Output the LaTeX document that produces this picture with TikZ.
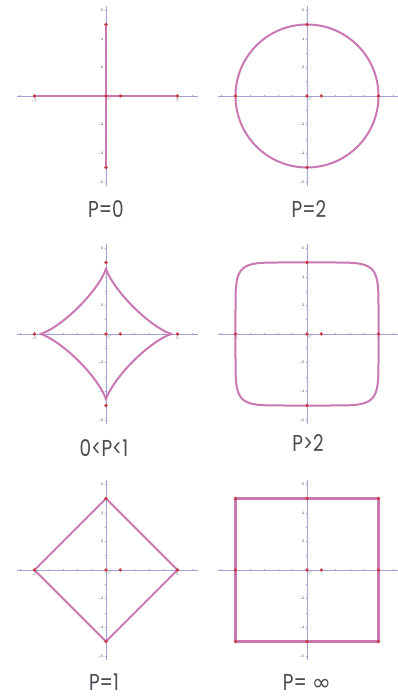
\documentclass[tikz,border=0pt]{standalone}
\usepackage{fontspec}
\newfontfamily\labelfont[FakeStretch=0.8]{Poppins}
\newfontfamily\symfont{DejaVu Sans}
\definecolor{curvepink}{RGB}{201,120,178}
\definecolor{axislav}{RGB}{165,160,215}
\definecolor{dotred}{RGB}{200,60,70}
\definecolor{gridgray}{RGB}{200,200,200}
\definecolor{labelgray}{RGB}{75,75,82}
\begin{document}
\begin{tikzpicture}[x=1pt, y=1pt,
  gridline/.style={gridgray, dash pattern=on 1pt off 1.5pt, line width=0.4pt},
  axisline/.style={axislav, line width=0.8pt},
  curveline/.style={curvepink, line width=2pt, line join=round},
  ticklabel/.style={font=\fontsize{4}{4}\selectfont, text=black!70, inner sep=1pt},
  reddot/.style={circle, fill=dotred, inner sep=0pt, minimum size=3.6pt},
  caption/.style={font=\labelfont\fontsize{23}{23}\selectfont, text=labelgray, anchor=base, inner sep=0pt}]
  \useasboundingbox (0,0) rectangle (398,698);

  % grids and axes of the six panels
  \foreach \ox/\oy in {106/602, 307/602, 106/364, 307/364, 106/128, 307/128} {
    \begin{scope}[shift={(\ox,\oy)}, scale=14.3]
      \draw[gridline] (-6.2,-6.2) grid (6.3,6.3);
      \draw[axisline] (-6.2,0) -- (6.4,0);
      \draw[axisline] (0,-6.3) -- (0,6.3);
      \foreach \t in {-6,...,6} {
        \draw[axisline, line width=0.5pt] (\t,-0.1) -- (\t,0.1);
        \draw[axisline, line width=0.5pt] (-0.1,\t) -- (0.1,\t);
      }
      \foreach \t in {-6,-4,-2,2,4,6}
        \node[ticklabel, left] (yl\t) at (-0.1,\t) {\t};
      \node[ticklabel, below] (xlm) at (-5,-0.1) {-5};
      \node[ticklabel, below] (xlp) at (5,-0.1) {5};
      \node[ticklabel, below right] (cl) at (0,0) {\itshape C};
    \end{scope}
  }

  % P=0: degenerate cross
  \begin{scope}[shift={(106,602)}, scale=14.3]
    \draw[curveline] (-5,0) -- (5,0);
    \draw[curveline] (0,-5) -- (0,5);
  \end{scope}

  % P=2: circle
  \begin{scope}[shift={(307,602)}, scale=14.3]
    \draw[curveline] (0,0) circle (5);
  \end{scope}

  % 0<P<1: star
  \begin{scope}[shift={(106,364)}, scale=14.3]
    \draw[curveline] plot[domain=0.5:359.5, samples=360]
      ({4.6*sign(cos(\x))*pow(abs(cos(\x)),2.55)}, {4.6*sign(sin(\x))*pow(abs(sin(\x)),2.55)}) -- cycle;
  \end{scope}

  % P>2: rounded square
  \begin{scope}[shift={(307,364)}, scale=14.3]
    \draw[curveline] plot[domain=0.5:359.5, samples=360]
      ({5*sign(cos(\x))*pow(abs(cos(\x)),0.2857)}, {5*sign(sin(\x))*pow(abs(sin(\x)),0.2857)}) -- cycle;
  \end{scope}

  % P=1: diamond
  \begin{scope}[shift={(106,128)}, scale=14.3]
    \draw[curveline] (-5,0) -- (0,5) -- (5,0) -- (0,-5) -- cycle;
  \end{scope}

  % P=infinity: square
  \begin{scope}[shift={(307,128)}, scale=14.3]
    \draw[curveline, line width=2.4pt] (-5,-5) rectangle (5,5);
    \foreach \dx/\dy in {-5/-5, -5/5, 5/-5, 5/5}
      \node[reddot] (corner\dx\dy) at (\dx,\dy) {};
  \end{scope}

  % marked points
  \foreach \ox/\oy in {106/602, 307/602, 106/364, 307/364, 106/128, 307/128} {
    \begin{scope}[shift={(\ox,\oy)}, scale=14.3]
      \foreach \dx/\dy in {-5/0, 5/0, 0/5, 0/-5, 0/0, 1/0}
        \node[reddot] (pt\dx\dy) at (\dx,\dy) {};
    \end{scope}
  }

  % captions
  \node[caption] (pzero) at (106,480) {P=0};
  \node[caption] (ptwo) at (309,480) {P=2};
  \node[caption] (pfrac) at (104,241) {0<P<1};
  \node[caption] (pbig) at (308,246) {P>2};
  \node[caption] (pone) at (104,8) {P=1};
  \node[caption] (pinf) at (307,8) {P= {\symfont ∞}};
\end{tikzpicture}
\end{document}
